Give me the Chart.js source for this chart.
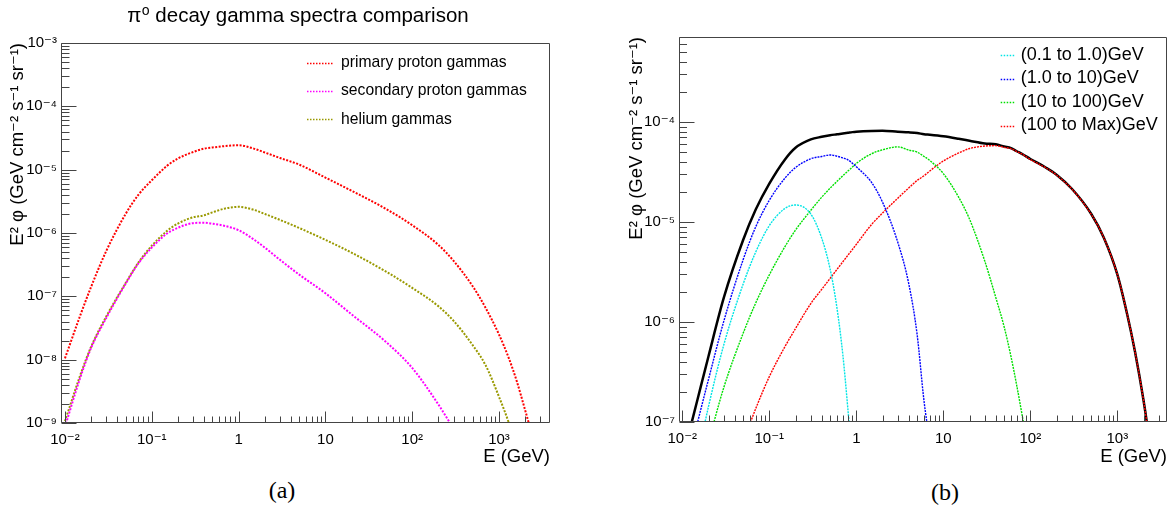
<!DOCTYPE html>
<html><head><meta charset="utf-8">
<script src="https://cdn.jsdelivr.net/npm/chart.js@4.4.1/dist/chart.umd.min.js"></script>
<style>
html,body{margin:0;padding:0;background:#fff;width:1175px;height:510px;overflow:hidden}
#wa{position:absolute;left:0;top:0;width:590px;height:470px}
#wb{position:absolute;left:590px;top:0;width:585px;height:470px}
.cap{position:absolute;font-family:'Liberation Serif','DejaVu Serif',serif;font-size:24px;line-height:24px;color:#000;transform:translateX(-50%)}
</style></head><body>
<div id="wa"><canvas id="ca"></canvas></div>
<div id="wb"><canvas id="cb"></canvas></div>
<div class="cap" style="left:282px;top:478px">(a)</div>
<div class="cap" style="left:945px;top:480px">(b)</div>
<script>
// ---------- Panel (a) data ----------
const energyA = [0.01, 0.015, 0.02, 0.03, 0.05, 0.07, 0.1, 0.15, 0.2, 0.3, 0.4, 0.5, 0.7, 1, 1.5, 2, 3, 5, 10, 20, 50, 100, 200, 300, 500, 700, 1000, 1300, 1600, 2000, 2200, 2500];
const primaryProton = [1.05e-8, 5.0e-8, 1.41e-7, 5.25e-7, 2.0e-6, 4.0e-6, 6.8e-6, 1.15e-5, 1.5e-5, 1.9e-5, 2.15e-5, 2.24e-5, 2.36e-5, 2.43e-5, 2.15e-5, 1.87e-5, 1.53e-5, 1.2e-5, 7.5e-6, 4.65e-6, 2.4e-6, 1.33e-6, 6.5e-7, 3.63e-7, 1.43e-7, 6.6e-8, 2.5e-8, 1.05e-8, 4.6e-9, 1.6e-9, 1.0e-9, 5e-10];
const secondaryProton = [8.7e-10, 5.2e-9, 1.53e-8, 4.6e-8, 1.58e-7, 3.3e-7, 5.9e-7, 9.8e-7, 1.21e-6, 1.43e-6, 1.45e-6, 1.40e-6, 1.29e-6, 1.11e-6, 7.9e-7, 5.9e-7, 3.77e-7, 2.2e-7, 1.12e-7, 5.2e-8, 1.9e-8, 7.4e-9, 1.97e-9, 8.1e-10, null, null, null, null, null, null, null, null];
const heliumGammas = [1.07e-9, 5.7e-9, 1.6e-8, 4.85e-8, 1.62e-7, 3.4e-7, 6.3e-7, 1.08e-6, 1.41e-6, 1.77e-6, 1.9e-6, 2.12e-6, 2.44e-6, 2.59e-6, 2.32e-6, 2.0e-6, 1.61e-6, 1.2e-6, 7.8e-7, 4.9e-7, 2.46e-7, 1.36e-7, 7.0e-8, 4.1e-8, 1.68e-8, 8.2e-9, 2.6e-9, 1.0e-9, 4e-10, null, null, null];
const labelsA = ['primary proton gammas', 'secondary proton gammas', 'helium gammas'];
const titleA = '\u03C0\u2070 decay gamma spectra comparison';

// ---------- Panel (b) data ----------
const energyB = [0.012, 0.015, 0.02, 0.03, 0.05, 0.07, 0.1, 0.15, 0.2, 0.3, 0.4, 0.5, 0.6, 0.7, 0.8, 0.9, 1, 1.5, 2, 3, 4, 5, 6, 7, 10, 15, 20, 30, 40, 50, 60, 70, 80, 100, 150, 200, 300, 500, 700, 1000, 1300, 1600, 2000, 2200, 2500];
const band01to1 = [null, 4.5e-8, 1.43e-7, 5.93e-7, 2.39e-6, 5.04e-6, 9.2e-6, 1.36e-5, 1.48e-5, 1.2e-5, 6.9e-6, 3.38e-6, 1.37e-6, 4.7e-7, 1.35e-7, 4e-8, null, null, null, null, null, null, null, null, null, null, null, null, null, null, null, null, null, null, null, null, null, null, null, null, null, null, null, null, null];
const band1to10 = [4.5e-8, 1.0e-7, 2.67e-7, 1.02e-6, 4.2e-6, 9.0e-6, 1.65e-5, 2.72e-5, 3.5e-5, 4.29e-5, 4.52e-5, 4.68e-5, 4.55e-5, 4.37e-5, 4.19e-5, 3.87e-5, 3.57e-5, 2.48e-5, 1.58e-5, 6.25e-6, 2.43e-6, 7.5e-7, 1.62e-7, 6.3e-8, null, null, null, null, null, null, null, null, null, null, null, null, null, null, null, null, null, null, null, null, null];
const band10to100 = [null, null, 6.3e-8, 2.22e-7, 7.7e-7, 1.56e-6, 2.96e-6, 5.6e-6, 8.3e-6, 1.31e-5, 1.77e-5, 2.18e-5, 2.55e-5, 2.9e-5, 3.23e-5, 3.54e-5, 3.85e-5, 4.82e-5, 5.27e-5, 5.64e-5, 5.24e-5, 5.0e-5, 4.52e-5, 4.12e-5, 3.05e-5, 1.77e-5, 1.07e-5, 4.05e-6, 1.77e-6, 8.97e-7, 4.5e-7, 2.29e-7, 1.21e-7, 4e-8, null, null, null, null, null, null, null, null, null, null, null];
const band100toMax = [null, null, null, null, 6.3e-8, 1.37e-7, 2.84e-7, 5.6e-7, 8.6e-7, 1.53e-6, 2.12e-6, 2.73e-6, 3.36e-6, 4.0e-6, 4.65e-6, 5.3e-6, 5.98e-6, 9.46e-6, 1.23e-5, 1.73e-5, 2.19e-5, 2.6e-5, 2.9e-5, 3.24e-5, 4.07e-5, 4.9e-5, 5.43e-5, 5.75e-5, 5.8e-5, 5.58e-5, 5.42e-5, 5.06e-5, 4.79e-5, 4.22e-5, 3.49e-5, 2.95e-5, 2.14e-5, 1.2e-5, 6.95e-6, 3.0e-6, 1.19e-6, 5.0e-7, 1.65e-7, 9.5e-8, 4e-8];
const totalB = [7.9e-8, 1.7e-7, 4.55e-7, 1.75e-6, 6.6e-6, 1.34e-5, 2.42e-5, 4.18e-5, 5.53e-5, 6.7e-5, 7.11e-5, 7.37e-5, 7.53e-5, 7.67e-5, 7.8e-5, 7.92e-5, 8.0e-5, 8.15e-5, 8.18e-5, 8.0e-5, 7.89e-5, 7.76e-5, 7.55e-5, 7.46e-5, 7.2e-5, 6.8e-5, 6.5e-5, 6.1e-5, 5.98e-5, 5.68e-5, 5.47e-5, 5.1e-5, 4.81e-5, 4.27e-5, 3.51e-5, 2.97e-5, 2.15e-5, 1.21e-5, 6.97e-6, 3.0e-6, 1.19e-6, 5.0e-7, 1.65e-7, 9.5e-8, 4e-8];
const labelsB = ['(0.1 to 1.0)GeV', '(1.0 to 10)GeV', '(10 to 100)GeV', '(100 to Max)GeV', 'total'];

// ---------- tick labels ----------
const xTickValues = [0.01, 0.1, 1, 10, 100, 1000];
const xTickLabels = ['10\u207B\u00B2', '10\u207B\u00B9', '1', '10', '10\u00B2', '10\u00B3'];
const yTickValuesA = [1e-9, 1e-8, 1e-7, 1e-6, 1e-5, 1e-4, 1e-3];
const yTickLabelsA = ['10\u207B\u2079', '10\u207B\u2078', '10\u207B\u2077', '10\u207B\u2076', '10\u207B\u2075', '10\u207B\u2074', '10\u207B\u00B3'];
const yTickValuesB = [1e-7, 1e-6, 1e-5, 1e-4];
const yTickLabelsB = ['10\u207B\u2077', '10\u207B\u2076', '10\u207B\u2075', '10\u207B\u2074'];

const FONT = "'Liberation Sans', 'DejaVu Sans', sans-serif";
const yTitle = 'E\u00B2 \u03C6 (GeV cm\u207B\u00B2 s\u207B\u00B9 sr\u207B\u00B9)';

function pts(xs, ys) { return xs.map((e, i) => ({x: e, y: ys[i]})); }

function rootAxes(o) {
  return {
    id: 'rootAxes',
    afterDraw(chart) {
      const {ctx, chartArea: a, scales: {x, y}} = chart;
      ctx.save();
      ctx.strokeStyle = '#444';
      ctx.lineWidth = 1;
      const L = Math.round(a.left) + 0.5, T = Math.round(a.top) + 0.5;
      const R = Math.round(a.right) - 0.5, B = Math.round(a.bottom) - 0.5;
      ctx.beginPath();
      ctx.moveTo(L, T); ctx.lineTo(R, T); ctx.lineTo(R, B); ctx.lineTo(L, B); ctx.closePath();
      for (let k = Math.floor(Math.log10(x.min)); k <= Math.ceil(Math.log10(x.max)); k++) {
        for (let m = 1; m <= 9; m++) {
          const v = m * Math.pow(10, k);
          if (v < x.min || v > x.max) continue;
          const px = Math.round(x.getPixelForValue(v)) + 0.5;
          const len = m === 1 ? o.xMajor : o.xMinor;
          ctx.moveTo(px, B); ctx.lineTo(px, B - len);
        }
      }
      for (let k = Math.floor(Math.log10(y.min)); k <= Math.ceil(Math.log10(y.max)); k++) {
        for (let m = 1; m <= 9; m++) {
          const v = m * Math.pow(10, k);
          if (v < y.min * 0.999 || v > y.max * 1.001) continue;
          const py = Math.round(y.getPixelForValue(v)) + 0.5;
          const len = m === 1 ? o.yMajor : o.yMinor;
          ctx.moveTo(L, py); ctx.lineTo(L + len, py);
        }
      }
      ctx.stroke();
      // title
      if (o.title) {
        ctx.fillStyle = '#000';
        ctx.font = o.title.size + 'px ' + FONT;
        ctx.textAlign = 'center';
        ctx.textBaseline = 'alphabetic';
        ctx.fillText(o.title.text, o.title.x, o.title.y);
      }
      // legend
      const lg = o.legend;
      ctx.font = lg.size + 'px ' + FONT;
      ctx.textBaseline = 'middle';
      ctx.textAlign = 'left';
      let row = 0;
      chart.data.datasets.forEach(ds => {
        if (ds.noLegend) return;
        const yy = lg.y0 + row * lg.dy;
        ctx.save();
        ctx.strokeStyle = ds.borderColor;
        ctx.lineWidth = 1.3;
        ctx.setLineDash([1.5, 1.5]);
        ctx.beginPath();
        ctx.moveTo(lg.x0, Math.round(yy) + 0.5);
        ctx.lineTo(lg.x1, Math.round(yy) + 0.5);
        ctx.stroke();
        ctx.restore();
        ctx.fillStyle = '#000';
        ctx.fillText(ds.label, lg.tx, yy);
        row++;
      });
      ctx.restore();
    }
  };
}

function xScale(min, max, height, size) {
  return {
    type: 'logarithmic', min: min, max: max,
    grid: {display: false, drawTicks: false},
    border: {display: false},
    afterBuildTicks: s => { s.ticks = xTickValues.map(v => ({value: v})); },
    afterFit: s => { s.height = height; },
    ticks: {autoSkip: false, maxRotation: 0, padding: 8, color: '#000',
      font: {family: FONT, size: size},
      callback: (v, i) => xTickLabels[i]},
    title: {display: true, text: 'E (GeV)', align: 'end', color: '#000',
      font: {family: FONT, size: 18.5}, padding: {top: 0, bottom: 2}}
  };
}
function yScale(min, max, vals, labs, width, size, titlePad) {
  return {
    type: 'logarithmic', min: min, max: max,
    grid: {display: false, drawTicks: false},
    border: {display: false},
    afterBuildTicks: s => { s.ticks = vals.map(v => ({value: v})); },
    afterFit: s => { s.width = width; },
    ticks: {autoSkip: false, padding: 4, color: '#000',
      font: {family: FONT, size: size},
      callback: (v, i) => labs[i]},
    title: {display: true, text: yTitle, align: 'end', color: '#000',
      font: {family: FONT, size: 18.5}, padding: {top: titlePad, bottom: 0}}
  };
}

const common = {
  responsive: true, maintainAspectRatio: false, animation: false,
  events: [],
  elements: {point: {radius: 0}, line: {cubicInterpolationMode: 'monotone'}},
};

new Chart(document.getElementById('ca'), {
  type: 'line',
  data: {datasets: [
    {label: labelsA[0], data: pts(energyA, primaryProton), borderColor: '#ff0000', borderWidth: 2, borderDash: [2, 1.5]},
    {label: labelsA[1], data: pts(energyA, secondaryProton), borderColor: '#ff00ff', borderWidth: 2, borderDash: [2, 1.5]},
    {label: labelsA[2], data: pts(energyA, heliumGammas), borderColor: '#999900', borderWidth: 2, borderDash: [2, 1.5]}
  ]},
  options: Object.assign({}, common, {
    layout: {padding: {top: 43, right: 40, bottom: 0, left: 0}},
    scales: {
      x: xScale(0.0090, 3870, 47, 15),
      y: yScale(1e-9, 1e-3, yTickValuesA, yTickLabelsA, 61, 15, 7)
    },
    plugins: {legend: {display: false}, tooltip: {enabled: false}, title: {display: false, text: titleA}}
  }),
  plugins: [rootAxes({xMajor: 11, xMinor: 6, yMajor: 15, yMinor: 8,
    title: {text: titleA, x: 298, y: 22, size: 20.5},
    legend: {x0: 307, x1: 333, tx: 341, y0: 62.7, dy: 28.3, size: 15.7}})]
});

new Chart(document.getElementById('cb'), {
  type: 'line',
  data: {datasets: [
    {label: labelsB[0], data: pts(energyB, band01to1), borderColor: '#00e5e5', borderWidth: 1.4, borderDash: [2, 1]},
    {label: labelsB[1], data: pts(energyB, band1to10), borderColor: '#0000ff', borderWidth: 1.4, borderDash: [2, 1]},
    {label: labelsB[2], data: pts(energyB, band10to100), borderColor: '#00e000', borderWidth: 1.4, borderDash: [2, 1]},
    {label: labelsB[3], data: pts(energyB, band100toMax), borderColor: '#ff0000', borderWidth: 1.4, borderDash: [2, 1]},
    {label: labelsB[4], data: pts(energyB, totalB), borderColor: '#000000', borderWidth: 2.5, noLegend: true}
  ]},
  options: Object.assign({}, common, {
    layout: {padding: {top: 37, right: 8, bottom: 0, left: 0}},
    scales: {
      x: xScale(0.00916, 3725, 48, 15),
      y: yScale(1e-7, Math.pow(10, -3.15), yTickValuesB, yTickLabelsB, 89, 15, 35.6)
    },
    plugins: {legend: {display: false}, tooltip: {enabled: false}, title: {display: false}}
  }),
  plugins: [rootAxes({xMajor: 11, xMinor: 6, yMajor: 15, yMinor: 7.5,
    legend: {x0: 410.7, x1: 425, tx: 430.7, y0: 55, dy: 23.5, size: 18}})]
});
</script>
</body></html>
